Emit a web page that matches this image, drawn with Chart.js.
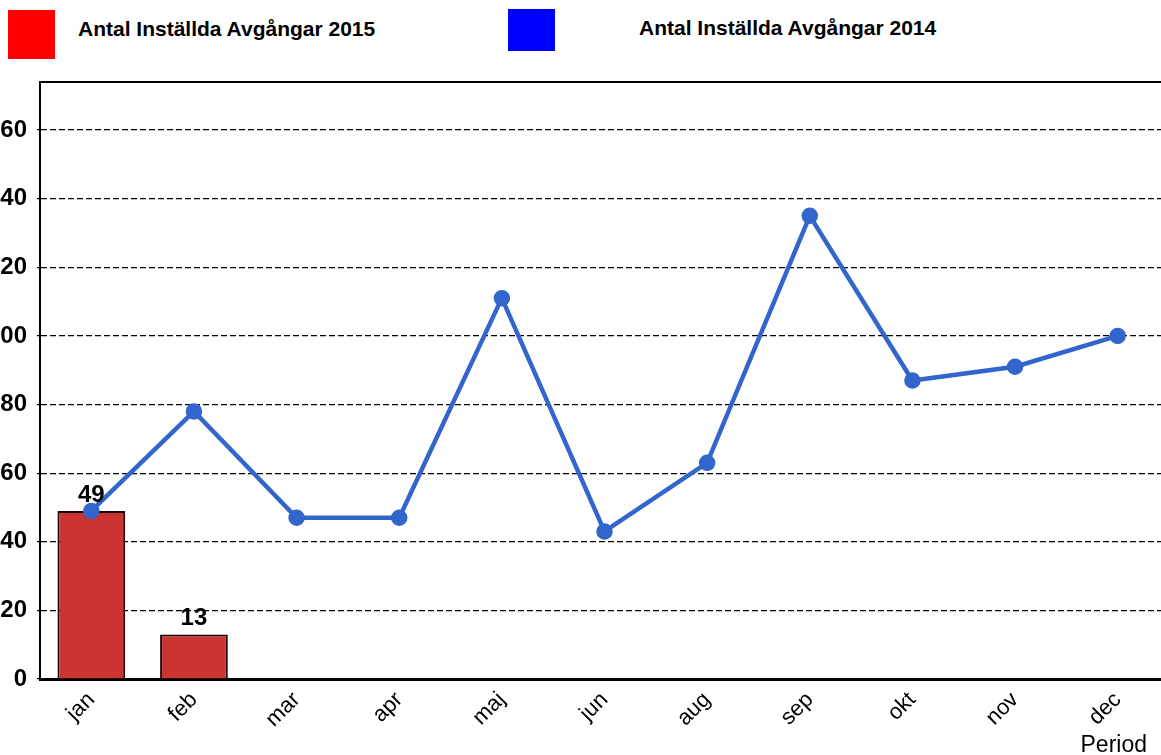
<!DOCTYPE html>
<html>
<head>
<meta charset="utf-8">
<script src="https://cdn.jsdelivr.net/npm/chart.js@4.4.0/dist/chart.umd.min.js"></script>
<style>
 body{margin:0;background:#fff;width:1161px;height:755px;overflow:hidden;position:relative;font-family:"Liberation Sans",Arial,sans-serif}
 #wrap{position:absolute;left:-20px;top:0;width:1200px;height:755px}
 .leg{position:absolute;font-weight:bold;font-size:21px;color:#000;white-space:nowrap}
 .box{position:absolute}
</style>
</head>
<body>
<div class="box" style="left:8px;top:10px;width:47px;height:49px;background:#ff0000"></div>
<div class="leg" id="leg1" style="left:78px;top:17px"></div>
<div class="box" style="left:508px;top:9px;width:47px;height:42px;background:#0000ff"></div>
<div class="leg" id="leg2" style="left:639px;top:16px"></div>
<div id="wrap"><canvas id="myCanvas" width="1200" height="755"></canvas></div>
<script>
 var months = ['jan','feb','mar','apr','maj','jun','aug','sep','okt','nov','dec'];
 var label2015 = 'Antal Inställda Avgångar 2015';
 var label2014 = 'Antal Inställda Avgångar 2014';
 var vals2015 = [49, 13, null, null, null, null, null, null, null, null, null];
 var vals2014 = [49, 78, 47, 47, 111, 43, 63, 135, 87, 91, 100];
 var yTitle = 'Period';

 document.getElementById('leg1').textContent = label2015;
 document.getElementById('leg2').textContent = label2014;

 // bar value labels, top border and axis title
 var extras = {
   id: 'extras',
   afterDatasetsDraw: function(chart){
     var ctx = chart.ctx;
     var meta = chart.getDatasetMeta(1);
     ctx.save();
     ctx.fillStyle = '#000';
     ctx.font = 'bold 24px "Liberation Sans", Arial';
     ctx.textAlign = 'center';
     ctx.textBaseline = 'alphabetic';
     meta.data.forEach(function(bar, i){
       var v = chart.data.datasets[1].data[i];
       if(v == null) return;
       ctx.fillText(v, bar.x, bar.y - 9);
     });
     ctx.restore();
   },
   afterDraw: function(chart){
     var ctx = chart.ctx, a = chart.chartArea;
     ctx.save();
     ctx.strokeStyle = '#000';
     ctx.lineWidth = 2;
     ctx.beginPath();
     ctx.moveTo(a.left, a.top);
     ctx.lineTo(chart.width, a.top);
     ctx.stroke();
     ctx.fillStyle = '#000';
     ctx.font = '23px "Liberation Sans", Arial';
     ctx.textAlign = 'right';
     ctx.textBaseline = 'alphabetic';
     ctx.fillText(yTitle, 1167, 752);
     ctx.restore();
   }
 };

 var config = {
   data: {
     labels: months,
     datasets: [{
       type: 'line',
       label: label2014,
       data: vals2014,
       borderColor: '#3366cc',
       backgroundColor: '#3366cc',
       borderWidth: 4.5,
       pointRadius: 6,
       pointHoverRadius: 6,
       tension: 0,
       order: 0
     }, {
       type: 'bar',
       label: label2015,
       data: vals2015,
       backgroundColor: '#cc3333',
       borderColor: '#1a0505',
       borderWidth: 2,
       barPercentage: 0.66,
       categoryPercentage: 1,
       order: 1
     }]
   },
   options: {
     responsive: false,
     animation: false,
     layout: { padding: { top: 82, right: 11, left: 0, bottom: 0 } },
     plugins: { legend: { display: false }, tooltip: { enabled: false } },
     scales: {
       x: {
         offset: true,
         grid: { display: false },
         border: { display: true, color: '#000', width: 3 },
         ticks: {
           color: '#000',
           font: { family: '"Liberation Sans", Arial', size: 22 },
           maxRotation: 45, minRotation: 45,
           padding: 0,
           autoSkip: false
         },
         afterFit: function(s){ s.height = 76; }
       },
       y: {
         min: 0, max: 174,
         afterBuildTicks: function(s){
           s.ticks = s.ticks.filter(function(t){ return t.value % 20 === 0; });
         },
         ticks: {
           stepSize: 20,
           color: '#000',
           font: { family: '"Liberation Sans", Arial', size: 24, weight: 'bold' },
           padding: 10
         },
         grid: {
           color: '#000',
           lineWidth: 1.2,
           tickLength: 3,
           tickColor: '#000',
           tickBorderDash: []
         },
         border: { display: true, color: '#000', width: 2, dash: [6, 3] },
         afterFit: function(s){ s.width = 60; }
       }
     }
   },
   plugins: [extras]
 };

 var myChart = new Chart(document.getElementById('myCanvas'), config);
</script>
</body>
</html>
